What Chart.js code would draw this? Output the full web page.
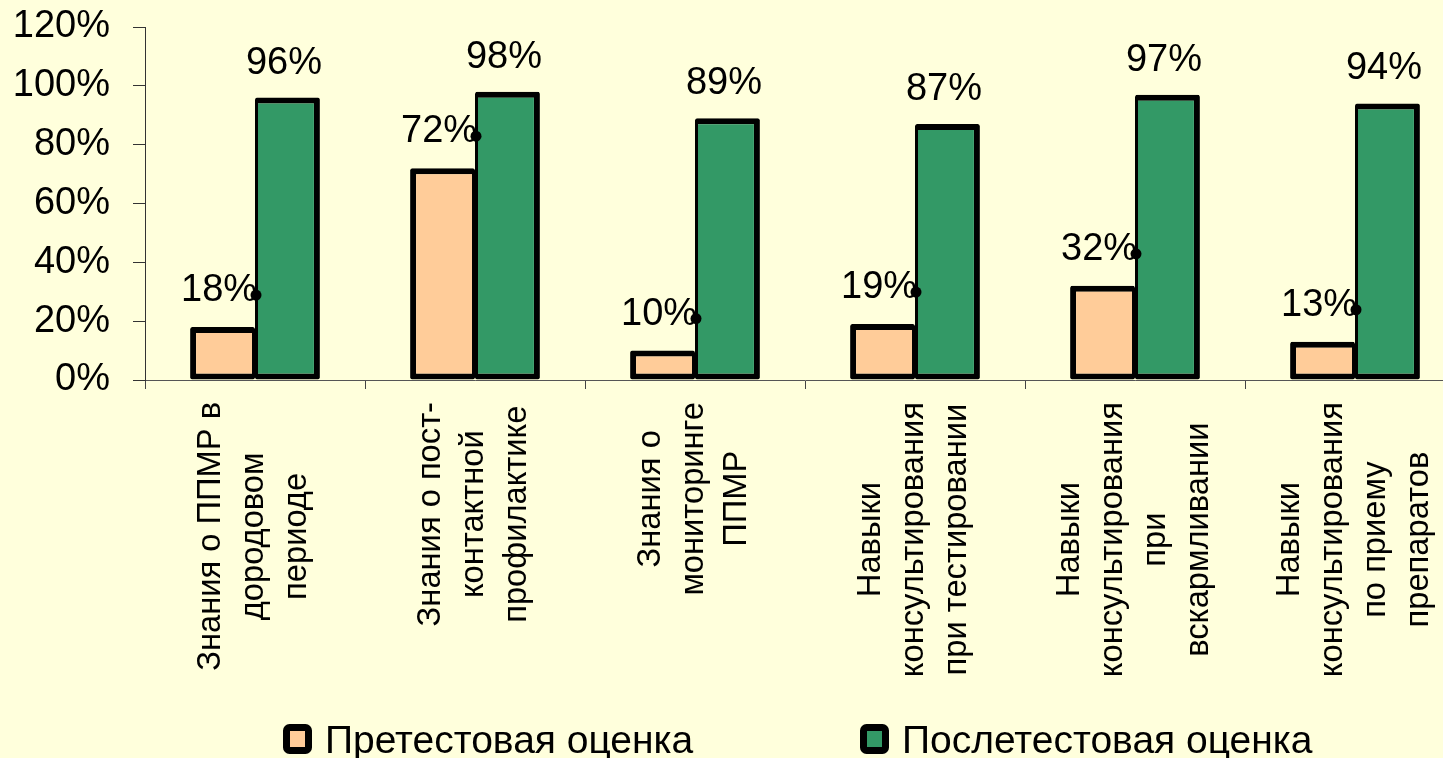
<!DOCTYPE html>
<html>
<head>
<meta charset="utf-8">
<script src="https://cdn.jsdelivr.net/npm/chart.js@4"></script>
<style>
html,body{margin:0;padding:0;background:#FFFFDC;overflow:hidden;width:1443px;height:758px}
canvas{display:block}
</style>
</head>
<body>
<canvas id="c" width="1465" height="758"></canvas>
<script>
const categories = [
  ['Знания о ППМР в', 'дородовом', 'периоде'],
  ['Знания о пост-', 'контактной', 'профилактике'],
  ['Знания о', 'мониторинге', 'ППМР'],
  ['Навыки', 'консультирования', 'при тестировании'],
  ['Навыки', 'консультирования', 'при', 'вскармливании'],
  ['Навыки', 'консультирования', 'по приему', 'препаратов']
];
const preTest = [18, 72, 10, 19, 32, 13];
const postTest = [96, 98, 89, 87, 97, 94];
const seriesNames = ['Претестовая оценка', 'Послетестовая оценка'];
const yTicks = [0, 20, 40, 60, 80, 100, 120];

const FAMILY = '"Liberation Sans", Arial, sans-serif';

const valueLabels = {
  id: 'valueLabels',
  afterDatasetsDraw(chart) {
    const ctx = chart.ctx;
    ctx.save();
    ctx.font = '38px ' + FAMILY;
    ctx.fillStyle = '#000';
    ctx.textAlign = 'center';
    ctx.textBaseline = 'alphabetic';
    chart.data.datasets.forEach((ds, di) => {
      chart.getDatasetMeta(di).data.forEach((bar, i) => {
        const off = di === 0 ? 26 : 24;
        const tx = bar.x - 3.5, ty = bar.y - off;
        ctx.fillText(ds.data[i] + '%', tx, ty);
        if (di === 0) {
          ctx.beginPath();
          ctx.arc(bar.x + bar.width / 2 + 1, ty - 6, 5.5, 0, Math.PI * 2);
          ctx.fill();
        }
      });
    });
    ctx.restore();
  }
};

const xLabels = {
  id: 'xLabels',
  afterDraw(chart) {
    const ctx = chart.ctx, xs = chart.scales.x;
    const top = chart.chartArea.bottom + 22;
    ctx.save();
    ctx.font = '32.7px ' + FAMILY;
    ctx.fillStyle = '#000';
    ctx.textAlign = 'center';
    ctx.textBaseline = 'middle';
    categories.forEach((lines, i) => {
      const cx = xs.getPixelForValue(i);
      const maxW = Math.max(...lines.map(l => ctx.measureText(l).width));
      const cy = top + maxW / 2;
      const n = lines.length;
      lines.forEach((l, k) => {
        ctx.save();
        ctx.translate(cx - 1 + (k - (n - 1) / 2) * 43, cy);
        ctx.rotate(-Math.PI / 2);
        ctx.fillText(l, 0, 0);
        ctx.restore();
      });
    });
    ctx.restore();
  }
};

const customLegend = {
  id: 'customLegend',
  afterDraw(chart) {
    const ctx = chart.ctx;
    const boxX = [286.5, 863.5];
    const textX = [325, 902];
    const boxTop = 727.5, baseline = 753;
    ctx.save();
    ctx.font = '39px ' + FAMILY;
    ctx.textAlign = 'left';
    ctx.textBaseline = 'alphabetic';
    chart.data.datasets.forEach((ds, i) => {
      ctx.beginPath();
      ctx.roundRect(boxX[i], boxTop, 22, 23, 3);
      ctx.fillStyle = ds.backgroundColor;
      ctx.fill();
      ctx.lineWidth = 7;
      ctx.strokeStyle = '#000';
      ctx.stroke();
      ctx.fillStyle = '#000';
      ctx.fillText(ds.label, textX[i], baseline);
    });
    ctx.restore();
  }
};

new Chart(document.getElementById('c'), {
  type: 'bar',
  data: {
    labels: categories.map(c => c.join(' ')),
    datasets: [
      {
        label: seriesNames[0],
        data: preTest,
        backgroundColor: '#FFCC99',
        borderColor: '#000',
        borderWidth: {top: 6, left: 6, bottom: 6, right: 3},
        borderSkipped: false,
        borderRadius: 2
      },
      {
        label: seriesNames[1],
        data: postTest,
        backgroundColor: '#339966',
        borderColor: '#000',
        borderWidth: {top: 6, left: 3, bottom: 6, right: 6},
        borderSkipped: false,
        borderRadius: 2
      }
    ]
  },
  options: {
    responsive: false,
    animation: false,
    devicePixelRatio: 1,
    layout: {padding: {left: 0, top: 27, right: 0, bottom: 0}},
    datasets: {bar: {categoryPercentage: 0.59, barPercentage: 1}},
    plugins: {
      legend: {display: false},
      tooltip: {enabled: false}
    },
    scales: {
      x: {
        offset: true,
        grid: {offset: true, drawOnChartArea: false, drawTicks: true, tickLength: 9, color: '#444', lineWidth: 1},
        border: {display: true, color: '#555', width: 1},
        ticks: {display: false},
        afterFit(s) { s.height = 378; }
      },
      y: {
        min: 0,
        max: 120,
        afterBuildTicks(s) { s.ticks = yTicks.map(v => ({value: v})); },
        ticks: {
          autoSkip: false,
          callback: v => v + '%',
          font: {size: 38, family: FAMILY},
          color: '#000',
          padding: 23
        },
        grid: {drawOnChartArea: false, tickLength: 12, color: '#333'},
        border: {color: '#333'},
        afterFit(s) { s.width = 145; s.paddingTop = 0; s.paddingBottom = 0; }
      }
    }
  },
  plugins: [valueLabels, xLabels, customLegend]
});
</script>
</body>
</html>
